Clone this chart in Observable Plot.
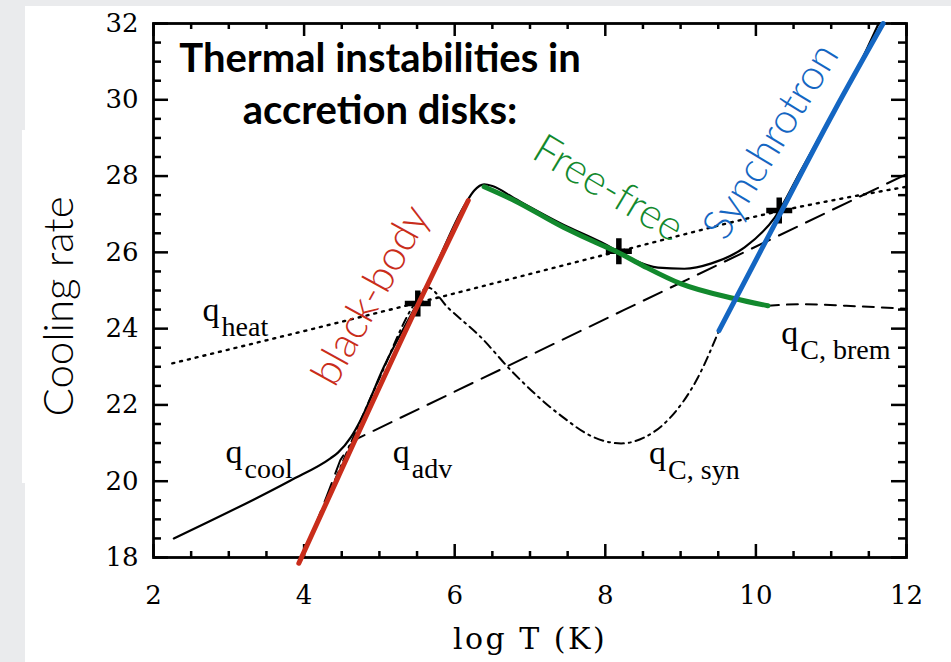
<!DOCTYPE html>
<html><head><meta charset="utf-8">
<script src="https://cdn.jsdelivr.net/npm/d3@7"></script>
<script src="https://cdn.jsdelivr.net/npm/@observablehq/plot@0.6"></script>
<style>
html,body{margin:0;padding:0;background:#eaebed;width:951px;height:662px;overflow:hidden}
#panel{position:absolute;left:25px;top:6px;width:926px;height:656px;background:#fff}
#panel2{position:absolute;left:22px;top:130px;width:5px;height:353px;background:#fff}
#chart{position:absolute;left:0;top:0}
</style></head><body>
<div id="panel"></div><div id="panel2"></div><div id="chart"></div>
<script>
// ---- axis ticks ----
const xTicks = [2, 4, 6, 8, 10, 12];
const yTicks = [18, 20, 22, 24, 26, 28, 30, 32];

// ---- curves (log T, cooling rate) ----
const heatX = [2.25, 5.51, 8.18, 10.31, 12.0];
const heatY = [23.09, 24.68, 26.03, 27.08, 27.72];

const coolX = [2.27, 3.82, 4.35, 4.45, 4.62, 4.75, 5.06, 5.64, 6.15, 6.26, 6.39, 6.5, 6.79, 7.45, 7.94, 8.12, 8.38, 8.70, 9.05, 9.41, 9.85, 10.25, 10.6, 11.04, 11.4, 11.63];
const coolY = [18.5, 20.02, 20.6, 20.75, 21.15, 21.6, 23.0, 25.18, 27.3, 27.62, 27.78, 27.74, 27.42, 26.72, 26.27, 26.08, 25.8, 25.6, 25.57, 25.71, 26.13, 26.91, 28.15, 29.72, 31.03, 32.0];

const advX = [3.98, 4.3, 4.48, 4.6, 4.72, 8.25, 12.0];
const advY = [18.0, 19.6, 20.55, 20.92, 21.13, 24.49, 28.05];

const synX = [3.98, 4.5, 5.0, 5.45, 5.64, 5.91, 6.35, 6.75, 7.41, 7.85, 8.21, 8.52, 8.83, 9.23, 9.51];
const synY = [18.0, 20.45, 22.7, 24.6, 25.08, 24.55, 23.77, 22.9, 21.72, 21.15, 20.99, 21.15, 21.6, 22.72, 23.95];

const bremX = [10.16, 10.6, 11.2, 12.0];
const bremY = [24.6, 24.64, 24.6, 24.52];

const bbX = [3.93, 4.45, 5.51, 6.18];
const bbY = [17.85, 20.1, 24.62, 27.36];

const ffX = [6.39, 6.79, 7.45, 7.94, 8.12, 8.5, 9.0, 9.71, 10.16];
const ffY = [27.72, 27.36, 26.65, 26.2, 26.05, 25.65, 25.18, 24.79, 24.6];

const syncX = [9.51, 10.16, 11.04, 11.69];
const syncY = [23.95, 26.4, 29.7, 32.0];

const eqX = [5.51, 8.18, 10.31];
const eqY = [24.66, 26.03, 27.1];

// ---- annotations ----
const qX = [2.652, 2.957, 5.178, 8.582, 10.338];
const qY = [24.21, 20.49, 20.49, 20.46, 23.61];
const qSub = ["heat", "cool", "adv", "C, syn", "C, brem"];

const procText = ["black-body", "Free-free", "Synchrotron"];
const procX = [4.886, 8.04, 10.2];
const procY = [24.87, 27.67, 28.91];
const procAngle = [-61, 31, -58.6];

const titleText = "Thermal instabilities in\naccretion disks:";
const xLabel = "log T (K)";
const yLabel = "Cooling rate";

// ---- build tables ----
const pts = (xs, ys) => xs.map((x, i) => ({x, y: ys[i]}));
const xMinor = d3.range(2, 12.001, 0.5).filter(v => !xTicks.includes(v));
const yMinor = d3.range(18, 32.001, 0.5).filter(v => !yTicks.includes(v));
const qData = qX.map((x, i) => ({x, y: qY[i], s: qSub[i]}));
const proc = procText.map((t, i) => ({t, x: procX[i], y: procY[i], a: procAngle[i]}));

const W = 951, H = 662, mL = 153, mR = 45, mT = 23, mB = 105;
const PW = W - mL - mR, PH = H - mT - mB;
const RED = "#c92d1b", GREEN = "#12892d", BLUE = "#1466c2";
const serif = "'Liberation Serif', 'Times New Roman', serif";
const tickFont = "'DejaVu Serif', serif";
const sans = "Lato, 'Liberation Sans', sans-serif";

const plusSym = {draw(ctx, size) {
  const r = Math.sqrt(size / Math.PI);
  ctx.moveTo(-r, 0); ctx.lineTo(r, 0);
  ctx.moveTo(0, -r); ctx.lineTo(0, r);
}};

const tk = {stroke: "black", strokeWidth: 2.5};
const chart = Plot.plot({
  width: W, height: H,
  marginLeft: mL, marginRight: mR, marginTop: mT, marginBottom: mB,
  style: {background: "transparent", overflow: "visible"},
  x: {domain: [2, 12]},
  y: {domain: [18, 32]},
  marks: [
    // ticks (inward, mirrored)
    Plot.tickX(xMinor, {x: d => d, insetTop: PH - 6, ...tk}),
    Plot.tickX(xMinor, {x: d => d, insetBottom: PH - 6, ...tk}),
    Plot.tickX(xTicks, {x: d => d, insetTop: PH - 13, ...tk}),
    Plot.tickX(xTicks, {x: d => d, insetBottom: PH - 13, ...tk}),
    Plot.tickY(yMinor, {y: d => d, insetRight: PW - 8, ...tk}),
    Plot.tickY(yMinor, {y: d => d, insetLeft: PW - 8, ...tk}),
    Plot.tickY(yTicks, {y: d => d, insetRight: PW - 15, ...tk}),
    Plot.tickY(yTicks, {y: d => d, insetLeft: PW - 15, ...tk}),
    Plot.axisX({ticks: xTicks, tickSize: 0, tickPadding: 28, fontSize: 26, fontFamily: tickFont, label: null}),
    Plot.axisY({ticks: yTicks, tickSize: 0, tickPadding: 15, fontSize: 26, fontFamily: tickFont, label: null}),
    Plot.frame({stroke: "black", strokeWidth: 2.8}),

    // black model curves
    Plot.line(pts(heatX, heatY), {x: "x", y: "y", curve: "monotone-x", stroke: "black", strokeWidth: 2.4, strokeDasharray: "2,6"}),
    Plot.line(pts(advX, advY), {x: "x", y: "y", curve: "linear", stroke: "black", strokeWidth: 2, strokeDasharray: "20,10"}),
    Plot.line(pts(synX, synY), {x: "x", y: "y", curve: "monotone-x", stroke: "black", strokeWidth: 2, strokeDasharray: "9,5,2,5"}),
    Plot.line(pts(bremX, bremY), {x: "x", y: "y", curve: "monotone-x", stroke: "black", strokeWidth: 2, strokeDasharray: "11,8"}),
    Plot.line(pts(coolX, coolY), {x: "x", y: "y", curve: "monotone-x", stroke: "black", strokeWidth: 2.2}),
    Plot.dot(pts(eqX, eqY), {x: "x", y: "y", symbol: plusSym, r: 13, fill: "none", stroke: "black", strokeWidth: 5.5}),

    // coloured process lines
    Plot.line(pts(bbX, bbY), {x: "x", y: "y", curve: "monotone-x", stroke: RED, strokeWidth: 5}),
    Plot.line(pts(ffX, ffY), {x: "x", y: "y", curve: "monotone-x", stroke: GREEN, strokeWidth: 5}),
    Plot.line(pts(syncX, syncY), {x: "x", y: "y", curve: "monotone-x", stroke: BLUE, strokeWidth: 5}),

    // q labels
    Plot.text(qData, {x: "x", y: "y", text: () => "q", textAnchor: "start", lineAnchor: "bottom", fontSize: 34, fontFamily: serif, fill: "black"}),
    Plot.text(qData, {x: "x", y: "y", text: "s", dx: 19, dy: 15, textAnchor: "start", lineAnchor: "bottom", fontSize: 28, fontFamily: serif, fill: "black"}),

    // process labels
    Plot.text([proc[0]], {x: "x", y: "y", text: "t", rotate: "a", fontSize: 42, fontWeight: 300, fontFamily: sans, fill: RED}),
    Plot.text([proc[1]], {x: "x", y: "y", text: "t", rotate: "a", fontSize: 42, fontWeight: 300, fontFamily: sans, fill: GREEN}),
    Plot.text([proc[2]], {x: "x", y: "y", text: "t", rotate: "a", fontSize: 42, fontWeight: 300, fontFamily: sans, fill: BLUE}),

    // title and axis labels
    Plot.text([titleText], {frameAnchor: "top", text: d => d, dx: -150, dy: 12, lineAnchor: "top", lineHeight: 1.3, fontSize: 40, fontWeight: 700, fontFamily: sans, fill: "black"}),
    Plot.text([xLabel], {frameAnchor: "bottom", text: d => d, dy: 91, lineAnchor: "bottom", fontSize: 30, fontFamily: tickFont, fill: "black"}),
    Plot.text([yLabel], {frameAnchor: "left", text: d => d, rotate: -90, textAnchor: "middle", lineAnchor: "bottom", dx: -81, dy: 16, fontSize: 42, fontWeight: 300, fontFamily: sans, fill: "black"})
  ]
});
d3.select(chart).selectAll("text").filter(function() { return this.textContent === xLabel; })
  .style("letter-spacing", "2.5px");
document.getElementById("chart").appendChild(chart);
</script>
</body></html>
